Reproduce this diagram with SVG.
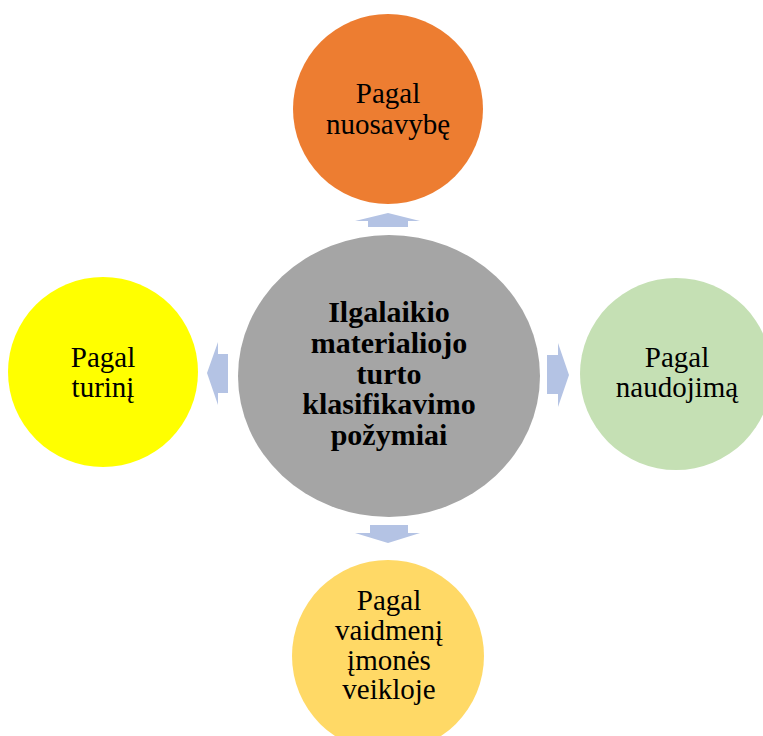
<svg xmlns="http://www.w3.org/2000/svg" width="763" height="736" viewBox="0 0 763 736">
<style>
text{font-family:"Liberation Serif","Times New Roman",serif;font-size:29px;fill:#000;text-anchor:middle}
.b{font-weight:bold;font-size:30px}
.arr{fill:#B4C3E4}
</style>
<rect width="763" height="736" fill="#fff"/>
<g id="connectors">
<polygon class="arr" points="388,213 420,221 408,221 408,227 368,227 368,221 355,221"/>
<polygon class="arr" points="370,525 408,525 408,533 420,533 388,543 355,533 370,533"/>
<polygon class="arr" points="207,373 218,342 218,354 228,354 228,393 218,393 218,405"/>
<polygon class="arr" points="547,355 558,355 558,343 569,375 558,407 558,394 547,394"/>
</g>
<g id="center">
<ellipse cx="389" cy="376" rx="151" ry="141" fill="#A5A5A5"/>
<text class="b" x="389" y="322">Ilgalaikio</text>
<text class="b" x="389" y="353">materialiojo</text>
<text class="b" x="389" y="384">turto</text>
<text class="b" x="389" y="414">klasifikavimo</text>
<text class="b" x="389" y="445">požymiai</text>
</g>
<g id="top">
<circle cx="388" cy="109" r="95" fill="#ED7D31"/>
<text x="388" y="103">Pagal</text>
<text x="388" y="134">nuosavybę</text>
</g>
<g id="left">
<circle cx="103" cy="372" r="95" fill="#FFFF00"/>
<text x="103" y="367">Pagal</text>
<text x="103" y="397">turinį</text>
</g>
<g id="right">
<circle cx="676" cy="374" r="96" fill="#C5E0B4"/>
<text x="677" y="367">Pagal</text>
<text x="677" y="397">naudojimą</text>
</g>
<g id="bottom">
<circle cx="388" cy="656" r="96" fill="#FFD966"/>
<text x="389" y="610">Pagal</text>
<text x="389" y="640">vaidmenį</text>
<text x="389" y="670">įmonės</text>
<text x="389" y="699">veikloje</text>
</g>
</svg>
